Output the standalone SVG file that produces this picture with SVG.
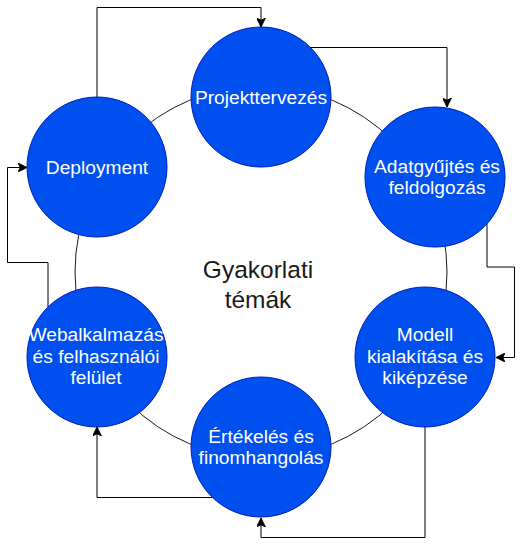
<svg xmlns="http://www.w3.org/2000/svg" width="526" height="546" viewBox="0 0 526 546">
<style>
.node{fill:#0050EF;stroke:#001DBC;stroke-width:1}
.lbl{font-family:"Liberation Sans",Arial,sans-serif;font-size:19.2px;fill:#ffffff;text-anchor:middle}
.ctr{font-family:"Liberation Sans",Arial,sans-serif;font-size:24.5px;fill:#1a1a1a;text-anchor:middle}
.edge{fill:none;stroke:#000000;stroke-width:1}
</style>
<defs>
<marker id="arr" viewBox="0 0 10 10" refX="10" refY="5" markerWidth="9" markerHeight="9" markerUnits="userSpaceOnUse" orient="auto">
<path d="M0,0 L10,5 L0,10 L2.5,5 Z" fill="#000000" stroke="#000000" stroke-width="1"/>
</marker>
</defs>
<g id="ring">
<circle cx="261" cy="272" r="186" fill="none" stroke="#1a1a1a" stroke-width="1"/>
<text class="ctr" x="258" y="278">Gyakorlati</text>
<text class="ctr" x="258" y="308">témák</text>
</g>
<g id="connectors">
<path class="edge" d="M97,97 V7.5 H261 V27" marker-end="url(#arr)"/>
<path class="edge" d="M310,47.5 H447 V107" marker-end="url(#arr)"/>
<path class="edge" d="M487,224 V267 H514.5 V357.5 H496" marker-end="url(#arr)"/>
<path class="edge" d="M425,427 V537.5 H261 V518" marker-end="url(#arr)"/>
<path class="edge" d="M212,497.5 H97 V427" marker-end="url(#arr)"/>
<path class="edge" d="M48,307 V262.5 H7.5 V167.5 H27" marker-end="url(#arr)"/>
</g>
<g id="projekttervezes">
<circle class="node" cx="261" cy="97" r="70"/>
<text class="lbl" x="261" y="103.5">Projekttervezés</text>
</g>
<g id="adatgyujtes">
<circle class="node" cx="435" cy="177" r="70"/>
<text class="lbl" x="437" y="172.5">Adatgyűjtés és</text>
<text class="lbl" x="437" y="194">feldolgozás</text>
</g>
<g id="modell">
<circle class="node" cx="425" cy="357" r="70"/>
<text class="lbl" x="425" y="341">Modell</text>
<text class="lbl" x="425" y="362.5">kialakítása és</text>
<text class="lbl" x="425" y="384">kiképzése</text>
</g>
<g id="ertekeles">
<circle class="node" cx="261" cy="447" r="70"/>
<text class="lbl" x="261" y="442.5">Értékelés és</text>
<text class="lbl" x="261" y="464">finomhangolás</text>
</g>
<g id="webalkalmazas">
<circle class="node" cx="97" cy="357" r="70"/>
<text class="lbl" x="96" y="341">Webalkalmazás</text>
<text class="lbl" x="96" y="362.5">és felhasználói</text>
<text class="lbl" x="96" y="384">felület</text>
</g>
<g id="deployment">
<circle class="node" cx="97" cy="167" r="70"/>
<text class="lbl" x="97" y="173.5">Deployment</text>
</g>
</svg>
